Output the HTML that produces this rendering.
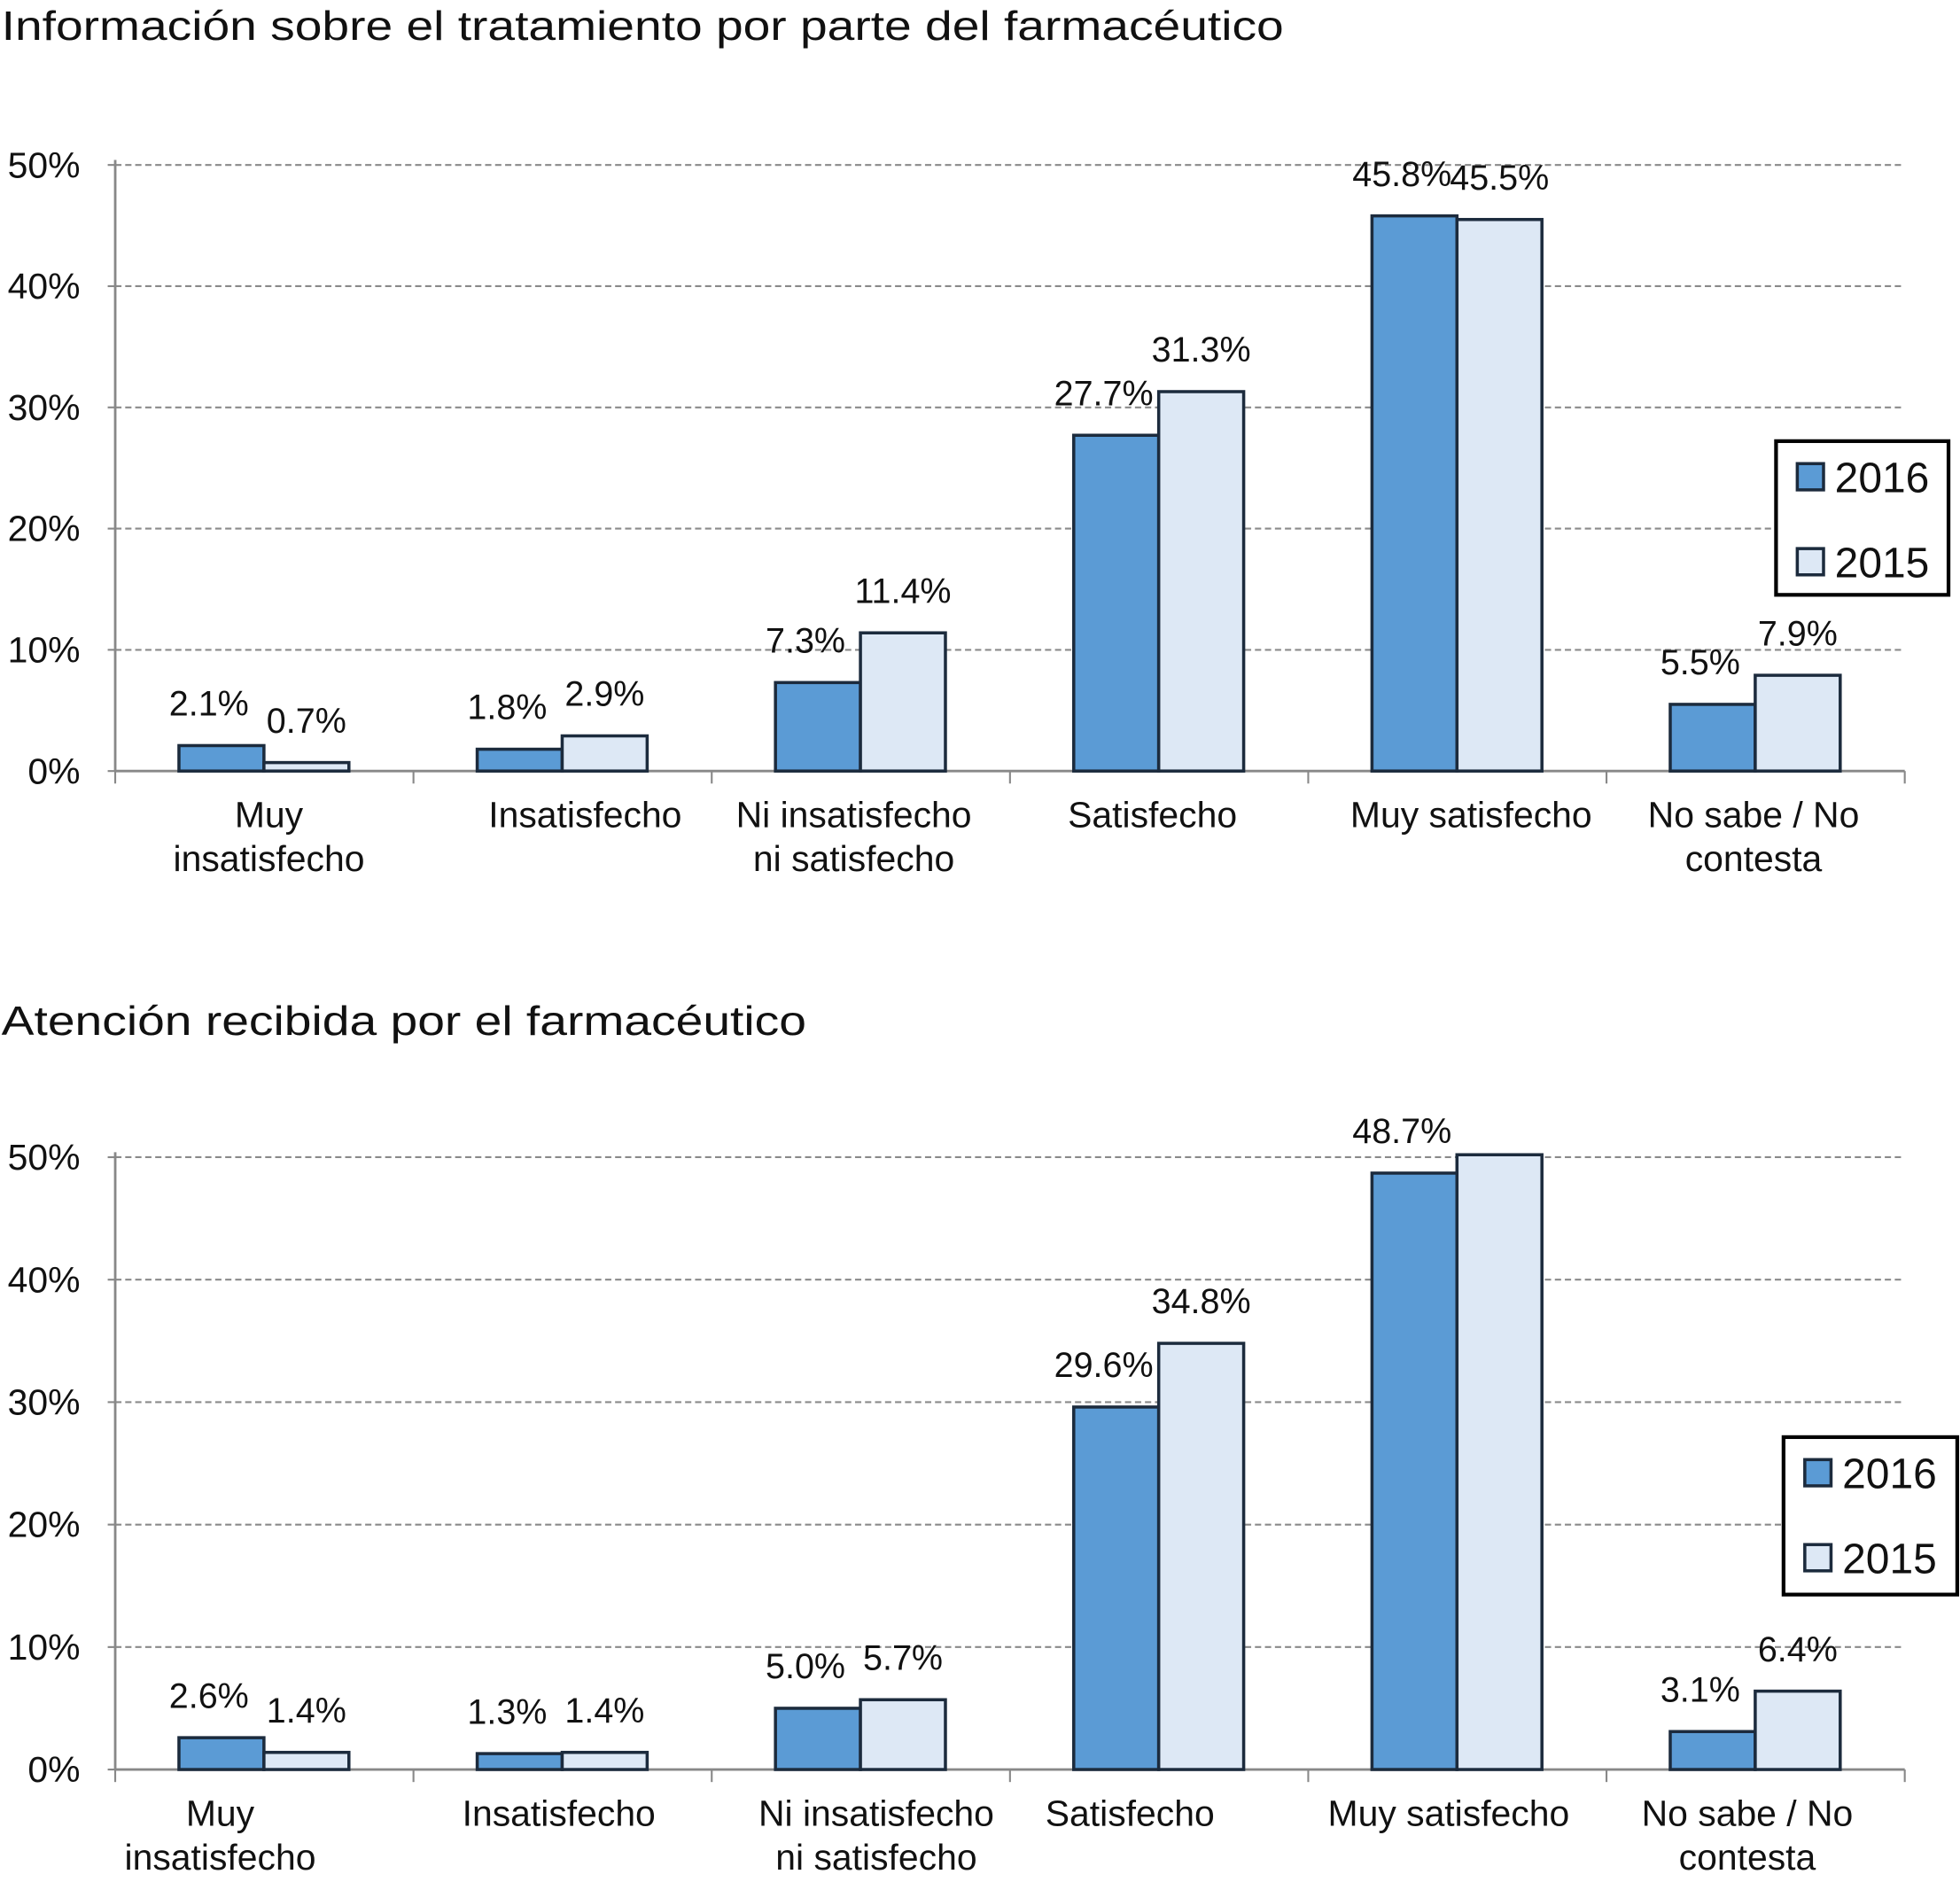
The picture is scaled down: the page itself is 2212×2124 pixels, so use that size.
<!DOCTYPE html>
<html><head><meta charset="utf-8">
<style>
html,body{margin:0;padding:0;background:#fff;}
svg{display:block;}
text{font-family:"Liberation Sans",sans-serif;fill:#111;}
</style></head>
<body>
<svg id="s" width="2212" height="2124" viewBox="0 0 1568 1506" xmlns="http://www.w3.org/2000/svg"></svg>
<script>
const categories = [["Muy","insatisfecho"],["Insatisfecho"],["Ni insatisfecho","ni satisfecho"],["Satisfecho"],["Muy satisfecho"],["No sabe / No","contesta"]];
const yTicks = [0,10,20,30,40,50];
const series1_2016 = [2.1,1.8,7.3,27.7,45.8,5.5];
const series1_2015 = [0.7,2.9,11.4,31.3,45.5,7.9];
const series2_2016 = [2.6,1.3,5.0,29.6,48.7,3.1];
const series2_2015 = [1.4,1.4,5.7,34.8,50.2,6.4];
const labelShow2_2015 = [true,true,true,true,false,true];

const svg = document.getElementById('s');
const NS = 'http://www.w3.org/2000/svg';
function mk(tag, attrs, parent){
  const e = document.createElementNS(NS, tag);
  for (const k in attrs) e.setAttribute(k, attrs[k]);
  (parent||svg).appendChild(e);
  return e;
}

function chart(cfg){
  const g = mk('g', {});
  
  
  const x0 = 92, x1 = 1524, y0 = cfg.y0, y50 = cfg.y50;
  const y = v => y0 - (y0 - y50) * v / 50;
  const catW = (x1 - x0) / categories.length;
  const t = mk('text', {x:1, y:cfg.titleY, 'font-size':33, textLength:cfg.titleW, lengthAdjust:'spacingAndGlyphs'}, g);
  t.textContent = cfg.title;
  
  
  yTicks.forEach(v => {
    if (v > 0) {
      const l = mk('line', {x1:x0, x2:x1, y1:y(v), y2:y(v), stroke:'#8a8a8a', 'stroke-width':1.5, 'stroke-dasharray':'5,3'}, g);
      
      
    }
    const tl = mk('text', {x:64, y:y(v)+10, 'font-size':29, 'text-anchor':'end'}, g);
    tl.textContent = v + '%';
    
    
    mk('line', {x1:x0-6, x2:x0, y1:y(v), y2:y(v), stroke:'#888', 'stroke-width':1.5}, g);
  });
  mk('line', {x1:x0, x2:x0, y1:y50-4, y2:y0, stroke:'#888', 'stroke-width':2}, g);
  mk('line', {x1:x0, x2:x1, y1:y0, y2:y0, stroke:'#888', 'stroke-width':2}, g);
  for (let i = 0; i <= categories.length; i++) {
    mk('line', {x1:x0+i*catW, x2:x0+i*catW, y1:y0, y2:y0+10, stroke:'#888', 'stroke-width':1.5}, g);
  }
  categories.forEach((c, i) => {
    const cs = x0 + i*catW;
    [[cfg.a, '#5b9bd5', 'bar-2016', 0], [cfg.b, '#dde8f5', 'bar-2015', 1]].forEach(([arr, col, nm, k]) => {
      const bx = cs + 51 + k*68;
      const r = mk('rect', {x:bx, y:y(arr[i]), width:68, height:y0 - y(arr[i]), fill:col, stroke:'#1c2b3d', 'stroke-width':2.5}, g);
      
      
      if (k === 1 && cfg.show && !cfg.show[i]) return;
      const vl = mk('text', {x:bx + 34 + (k ? 0 : -10), y:y(arr[i]) - 24, 'font-size':28, 'text-anchor':'middle'}, g);
      vl.textContent = arr[i].toFixed(1) + '%';
      
      
    });
    c.forEach((line, j) => {
      const xl = mk('text', {x:cfg.labelX[i], y:y0 + 45 + j*35, 'font-size':29, 'text-anchor':'middle'}, g);
      xl.textContent = line;
      
      
    });
  });
  const lg = mk('g', {}, g);
  
  
  const L = cfg.legend;
  mk('rect', {x:L.x, y:L.y, width:L.w, height:L.h, fill:'#fff', stroke:'#000', 'stroke-width':3}, lg);
  [['2016', '#5b9bd5'], ['2015', '#dde8f5']].forEach(([lab, col], k) => {
    const cy = L.y + 19 + k*68;
    const sw = mk('rect', {x:L.x+17, y:cy-1, width:21, height:21, fill:col, stroke:'#1c2b3d', 'stroke-width':2.5}, lg);
    
    
    const lt = mk('text', {x:L.x+47, y:cy+22, 'font-size':34}, lg);
    lt.textContent = lab;
    
    
  });
}

chart({name:'chart-informacion', title:'Información sobre el tratamiento por parte del farmacéutico', titleY:32, titleW:1026,
  y0:617, y50:132, a:series1_2016, b:series1_2015, show:null,
  labelX:[215,468,683,922,1177,1403], legend:{x:1421, y:353, w:138, h:123}});
chart({name:'chart-atencion', title:'Atención recibida por el farmacéutico', titleY:828, titleW:644,
  y0:1416, y50:926, a:series2_2016, b:series2_2015, show:labelShow2_2015,
  labelX:[176,447,701,904,1159,1398], legend:{x:1427, y:1150, w:139, h:126}});
</script>
</body></html>
